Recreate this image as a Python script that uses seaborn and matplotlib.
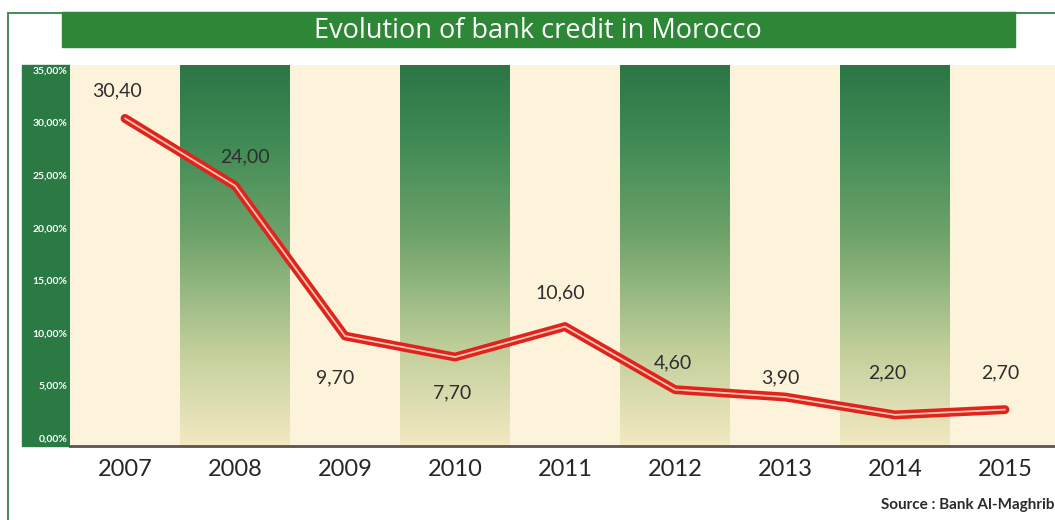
import numpy as np
import matplotlib
matplotlib.use("Agg")
import matplotlib.pyplot as plt
from matplotlib.colors import LinearSegmentedColormap
from matplotlib.patches import Rectangle
from matplotlib.lines import Line2D
import seaborn as sns

# Annual growth of bank credit (%)
years = [2007, 2008, 2009, 2010, 2011, 2012, 2013, 2014, 2015]
credit_growth = [30.40, 24.00, 9.70, 7.70, 10.60, 4.60, 3.90, 2.20, 2.70]
value_labels = ["30,40", "24,00", "9,70", "7,70", "10,60", "4,60", "3,90", "2,20", "2,70"]
y_ticks = [0, 5, 10, 15, 20, 25, 30, 35]
y_tick_labels = ["0,00%", "5,00%", "10,00%", "15,00%", "20,00%", "25,00%", "30,00%", "35,00%"]

title = "Evolution of bank credit in Morocco"
source = "Source : Bank Al-Maghrib"

# label offsets in pixels (dx, dy) from each point
label_offsets = [(-8, 28), (10, 29), (-10, -42), (-3, -36), (-5, 34),
                 (-2, 27), (-5, 19), (-8, 42), (-5, 37)]

sns.set_theme(style="white")
plt.rcParams["font.family"] = ["Lato", "DejaVu Sans"]

W, H = 1055, 520
fig = plt.figure(figsize=(W / 100, H / 100), dpi=100)
fig.patch.set_facecolor("white")

def fx(px):
    return px / W

def fy(py):
    return 1 - py / H

# plot area in pixels
left_px, right_px, top_px, bottom_px = 70, 1055, 65, 446
ax = fig.add_axes([fx(left_px), fy(bottom_px), fx(right_px - left_px), (bottom_px - top_px) / H])

ymin, ymax = -0.76, 35.48
xmin, xmax = years[0] - 0.5, years[0] + (right_px - 125) / 110

# alternating column backgrounds
cream = "#fdf2da"
grad_cmap = LinearSegmentedColormap.from_list(
    "col_grad",
    [(0.0, "#f3e9c2"), (0.25, "#c2cf9b"), (0.55, "#6fa36a"), (0.8, "#3f8a55"), (1.0, "#2c7646")],
)
grad = np.linspace(0, 1, 256).reshape(-1, 1)
for i, yr in enumerate(years):
    if i % 2 == 0:
        ax.add_patch(Rectangle((yr - 0.5, ymin), 1, ymax - ymin, color=cream, zorder=0, lw=0))
    else:
        ax.imshow(grad, extent=(yr - 0.5, yr + 0.5, ymin, ymax), origin="lower",
                  cmap=grad_cmap, aspect="auto", zorder=0, interpolation="bilinear")
ax.add_patch(Rectangle((years[-1] + 0.5, ymin), 1, ymax - ymin, color=cream, zorder=0, lw=0))

# the credit line: red tube with a light core
sns.lineplot(x=years, y=credit_growth, ax=ax, color="#e1241b", lw=6.4,
             solid_joinstyle="round", solid_capstyle="round", zorder=3)
sns.lineplot(x=years, y=credit_growth, ax=ax, color="#f8c6b6", lw=1.3,
             solid_joinstyle="round", solid_capstyle="round", zorder=4)

for yr, v, lab, (dx, dy) in zip(years, credit_growth, value_labels, label_offsets):
    ax.annotate(lab, (yr, v), xytext=(dx, dy), textcoords="offset pixels",
                ha="center", va="center", fontsize=14, color="#2e2e2e", zorder=5)

ax.set_xlim(xmin, xmax)
ax.set_ylim(ymin, ymax)
ax.set_xticks(years)
ax.set_xticklabels([str(y) for y in years], fontsize=17, color="#262626")
ax.set_yticks(y_ticks)
ax.set_yticklabels(y_tick_labels, fontsize=7.5, color="white", fontweight="bold")
ax.tick_params(axis="x", length=0, pad=9)
ax.tick_params(axis="y", length=0, pad=2)
for s in ["top", "right", "left"]:
    ax.spines[s].set_visible(False)
ax.spines["bottom"].set_color("#5a5550")
ax.spines["bottom"].set_linewidth(2)
ax.grid(False)

# green band behind the y-axis labels
fig.patches.append(Rectangle((fx(22), fy(bottom_px)), fx(left_px - 22), (bottom_px - top_px) / H,
                             transform=fig.transFigure, color="#2b7a43", zorder=-1))

# outer frame
fig.lines.append(Line2D([fx(8), fx(8)], [fy(13), 0], transform=fig.transFigure,
                        color="#4c8c5c", lw=1.5))
fig.lines.append(Line2D([fx(8), 1], [fy(13), fy(13)], transform=fig.transFigure,
                        color="#4c8c5c", lw=1.5))

# title banner
fig.patches.append(Rectangle((fx(62), fy(47)), fx(1015 - 62), 35 / H,
                             transform=fig.transFigure, color="#2e8637", zorder=2))
fig.text(fx(538), fy(31), title, ha="center", va="center", color="white",
         fontsize=19.5, fontweight="normal", family=["Open Sans", "DejaVu Sans"], zorder=3)

fig.text(fx(881), fy(505), source, ha="left", va="center", color="#2b2b2b",
         fontsize=11, fontweight="bold")

fig.savefig("out.png", dpi=100, facecolor="white")
